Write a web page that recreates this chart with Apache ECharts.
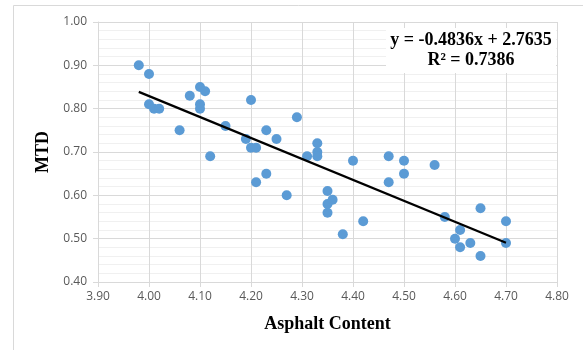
<!DOCTYPE html>
<html>
<head>
<meta charset="utf-8">
<script src="https://cdn.jsdelivr.net/npm/echarts@6/dist/echarts.min.js"></script>
<style>
  html, body { margin: 0; padding: 0; background: #fff; }
  #chart { width: 583px; height: 350px; }
</style>
</head>
<body>
<div id="chart"></div>
<script>
// asphalt content (x) and MTD (y)
const asphaltContent = [
  3.98, 4.00, 4.00, 4.01, 4.02, 4.06, 4.08, 4.10, 4.11, 4.10,
  4.10, 4.12, 4.15, 4.20, 4.19, 4.20, 4.21, 4.23, 4.25, 4.29,
  4.21, 4.23, 4.27, 4.31, 4.33, 4.33, 4.33, 4.40, 4.35, 4.35,
  4.36, 4.35, 4.38, 4.42, 4.47, 4.50, 4.50, 4.47, 4.56, 4.58,
  4.61, 4.60, 4.61, 4.63, 4.65, 4.65, 4.70, 4.70
];
const mtd = [
  0.90, 0.88, 0.81, 0.80, 0.80, 0.75, 0.83, 0.85, 0.84, 0.81,
  0.80, 0.69, 0.76, 0.82, 0.73, 0.71, 0.71, 0.75, 0.73, 0.78,
  0.63, 0.65, 0.60, 0.69, 0.72, 0.70, 0.69, 0.68, 0.61, 0.58,
  0.59, 0.56, 0.51, 0.54, 0.69, 0.68, 0.65, 0.63, 0.67, 0.55,
  0.52, 0.50, 0.48, 0.49, 0.57, 0.46, 0.54, 0.49
];

// linear trendline as printed on the chart
const slope = -0.4836;
const intercept = 2.7635;
const rSquared = 0.7386;
const trendRange = [3.98, 4.70];

const points = asphaltContent.map((x, i) => [x, mtd[i]]);
const trendPoints = trendRange.map((x) => [x, slope * x + intercept]);

const tickFont = { color: "#595959", fontSize: 12, fontFamily: "Open Sans" };
const titleFont = { color: "#000", fontSize: 18, fontWeight: "bold", fontFamily: "Liberation Serif" };

const chart = echarts.init(document.getElementById("chart"), null, { renderer: "canvas" });

chart.setOption({
  animation: false,
  backgroundColor: "#fff",
  grid: { left: 98, right: 26, top: 22, bottom: 68 },
  xAxis: {
    type: "value",
    min: 3.9,
    max: 4.8,
    interval: 0.1,
    name: "Asphalt Content",
    nameLocation: "middle",
    nameGap: 33,
    nameTextStyle: titleFont,
    axisLine: { show: true, lineStyle: { color: "#d9d9d9" } },
    axisTick: { show: true, length: 5, lineStyle: { color: "#d9d9d9" } },
    axisLabel: { ...tickFont, margin: 9, formatter: (v) => v.toFixed(2) },
    splitLine: { show: true, lineStyle: { color: "#d9d9d9" } },
  },
  yAxis: {
    type: "value",
    min: 0.4,
    max: 1.0,
    interval: 0.1,
    name: "MTD",
    nameLocation: "middle",
    nameRotate: 90,
    nameGap: 45,
    nameTextStyle: titleFont,
    axisLine: { show: true, lineStyle: { color: "#d9d9d9" } },
    axisTick: { show: true, length: 5, lineStyle: { color: "#d9d9d9" } },
    axisLabel: { ...tickFont, margin: 11, formatter: (v) => v.toFixed(2) },
    splitLine: { show: true, lineStyle: { color: "#d9d9d9" } },
    minorTick: { show: false, splitNumber: 5 },
    minorSplitLine: { show: true, lineStyle: { color: "#f0f0f0" } },
  },
  graphic: [
    {
      type: "rect",
      silent: true,
      shape: { x: 13.5, y: 5.5, width: 620, height: 400 },
      style: { fill: null, stroke: "#d9d9d9", lineWidth: 1 },
      z: 0,
    },
    {
      type: "rect",
      shape: { x: 386, y: 28, width: 170, height: 45 },
      style: { fill: "#fff" },
      z: 5,
    },
    {
      type: "text",
      x: 471,
      y: 40,
      style: {
        text: "y = -0.4836x + 2.7635",
        fill: "#000",
        font: "bold 18px 'Liberation Serif'",
        align: "center",
        verticalAlign: "middle",
      },
      z: 6,
    },
    {
      type: "text",
      x: 471,
      y: 60,
      style: {
        text: "R² = " + rSquared.toFixed(4),
        fill: "#000",
        font: "bold 18px 'Liberation Serif'",
        align: "center",
        verticalAlign: "middle",
      },
      z: 6,
    },
  ],
  series: [
    {
      type: "scatter",
      data: points,
      symbolSize: 10,
      itemStyle: { color: "#5b9bd5", opacity: 1 },
      z: 2,
    },
    {
      type: "line",
      data: trendPoints,
      showSymbol: false,
      lineStyle: { color: "#000", width: 2.25 },
      z: 3,
    },
  ],
});
</script>
</body>
</html>
